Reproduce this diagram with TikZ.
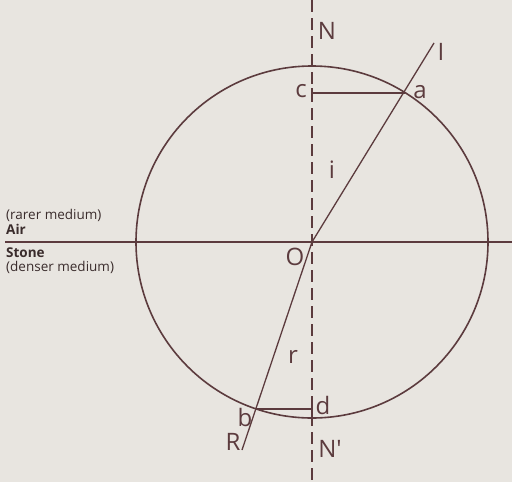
\documentclass[tikz,border=0pt]{standalone}
\usepackage{fontspec}
\setmainfont{Open Sans}
\definecolor{bg}{HTML}{E8E5E0}
\definecolor{ink}{HTML}{5C3B3E}
\definecolor{txt}{HTML}{3A2C2C}
\tikzset{
  lbl/.style={inner sep=0pt, text=ink, font=\fontsize{24}{27}\selectfont},
  side/.style={inner sep=0pt, anchor=west, text=txt, font=\fontsize{13.5}{15}\selectfont},
  ray/.style={draw=ink, line width=1.3pt},
  axis/.style={draw=ink, line width=1.2pt},
  normal/.style={draw=ink, line width=1.2pt, dash pattern=on 12pt off 6pt},
}
\begin{document}
\begin{tikzpicture}[x=1pt, y=-1pt]
\useasboundingbox[fill=bg] (0,0) rectangle (512,482);
% key points
\coordinate (O) at (312,242);
\coordinate (Ntop) at (312,0);
\coordinate (Nbot) at (312,482);
\coordinate (Lend) at (5,242);
\coordinate (Rend) at (512,242);
\coordinate (a) at (405,93);
\coordinate (Iend) at (434,43);
\coordinate (b) at (256,409);
\coordinate (Rlow) at (242,450);
\coordinate (c) at (312,93);
\coordinate (d) at (312,409);
% circle
\draw[draw=ink, line width=1.6pt] (O) circle[radius=176pt];
% interface and normal
\draw[axis] (Lend) -- (Rend);
\draw[normal] (Ntop) -- (Nbot);
% rays
\draw[ray] (O) -- (Iend);
\draw[ray] (O) -- (Rlow);
% perpendiculars
\draw[axis] (c) -- (a);
\draw[axis] (b) -- (d);
\draw[axis] ([yshift=-5pt]c) -- ([yshift=5pt]c);
\draw[axis] ([yshift=-5pt]d) -- ([yshift=4pt]d);
% labels
\node[lbl] (lN) at (327,31) {N};
\node[lbl] (lI) at (441,52) {I};
\node[lbl] (la) at (420,92) {a};
\node[lbl] (lc) at (301,91) {c};
\node[lbl] (li) at (332,170) {i};
\node[lbl] (lO) at (295,257) {O};
\node[lbl] (lr) at (293,357) {r};
\node[lbl] (lb) at (245,417) {b};
\node[lbl] (ld) at (323,405) {d};
\node[lbl] (lR) at (233,442) {R};
\node[lbl] (lNp) at (330,449) {N\textquotesingle};
% side text
\node[side] (t1) at (6,215) {(rarer medium)};
\node[side] (t2) at (6,229) {\bfseries Air};
\node[side] (t3) at (6,253) {\bfseries Stone};
\node[side] (t4) at (6,267) {(denser medium)};
\end{tikzpicture}
\end{document}
